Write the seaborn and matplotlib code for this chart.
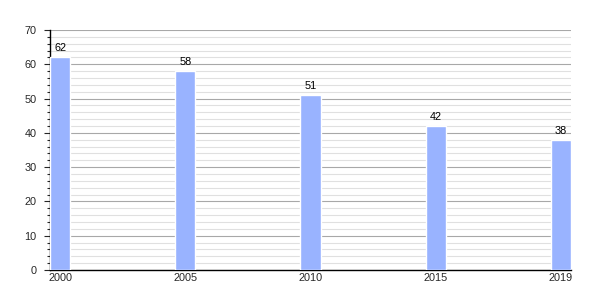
import matplotlib
matplotlib.use("Agg")
import matplotlib.pyplot as plt
import seaborn as sns
import pandas as pd
from matplotlib.ticker import MultipleLocator

years = ["2000", "2005", "2010", "2015", "2019"]
values = [62, 58, 51, 42, 38]

df = pd.DataFrame({"year": years, "value": values})

sns.set_style("white")
plt.rcParams['font.family'] = ['Liberation Sans', 'DejaVu Sans']

fig = plt.figure(figsize=(6, 3), dpi=100)
ax = fig.add_axes([50/600, 30/300, 521/600, 240/300])

sns.barplot(data=df, x="year", y="value", color="#99b3ff", saturation=1,
            width=0.16, ax=ax, zorder=3)

ax.set_xlim(-0.08, 4.08)
ax.set_ylim(0, 70)
ax.yaxis.set_major_locator(MultipleLocator(10))
ax.yaxis.set_minor_locator(MultipleLocator(2))
ax.grid(axis="y", which="major", color="#a8a8a8", linewidth=0.8, zorder=0)
ax.grid(axis="y", which="minor", color="#e0e0e0", linewidth=0.8, zorder=0)
ax.set_axisbelow(True)

for s in ["top", "right"]:
    ax.spines[s].set_visible(False)
for s in ["left", "bottom"]:
    ax.spines[s].set_color("black")
    ax.spines[s].set_linewidth(1)

ax.tick_params(axis="y", which="major", length=4.3, width=0.8, labelsize=7.8, left=True, pad=5.5)
ax.tick_params(axis="y", which="minor", length=2.2, width=0.8, left=True)
ax.tick_params(axis="x", length=0, labelsize=7.8, pad=2)
ax.set_xlabel("")
ax.set_ylabel("")

for i, v in enumerate(values):
    ax.text(i, v + 1.2, str(v), ha="center", va="bottom", fontsize=7.8, color="black")

fig.savefig("out.png", dpi=100)
